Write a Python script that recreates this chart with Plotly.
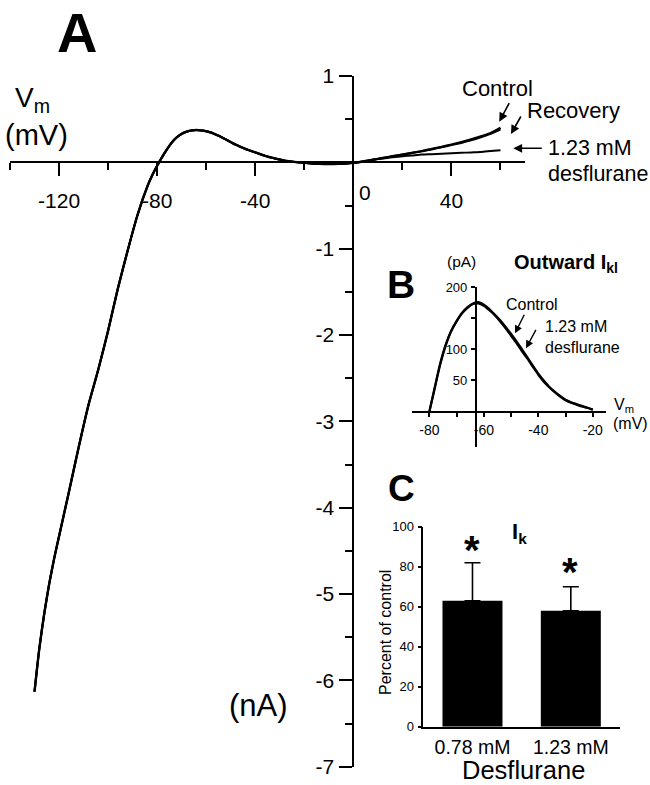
import plotly.graph_objects as go

W, H = 650, 785

# ---------------- Panel A : I-V relation (nA vs mV) ----------------
v_shared = [-130, -128, -126, -124, -122, -120, -116, -112, -108, -104, -100, -96, -92, -88,
            -84, -82, -80, -78, -76, -74, -72, -70, -68, -66, -64, -62, -60, -58, -56, -54,
            -52, -50, -48, -46, -44, -42, -40, -36, -32, -28, -24, -20, -16, -12, -8, -4, 0, 4]
i_shared = [-6.13, -5.62, -5.22, -4.88, -4.59, -4.33, -3.82, -3.30, -2.81, -2.40, -1.95, -1.46,
            -1.02, -0.61, -0.28, -0.15, -0.04, 0.06, 0.15, 0.23, 0.29, 0.33, 0.355, 0.37, 0.375,
            0.37, 0.36, 0.345, 0.32, 0.295, 0.265, 0.235, 0.205, 0.18, 0.155, 0.135, 0.115,
            0.075, 0.045, 0.02, 0.005, -0.005, -0.015, -0.02, -0.02, -0.015, -0.005, 0.01]
v_tail = [8, 12, 16, 20, 24, 28, 32, 36, 40, 44, 48, 52, 56, 60]
i_control_tail = [0.03, 0.05, 0.07, 0.09, 0.11, 0.13, 0.155, 0.18, 0.205, 0.235, 0.265, 0.30, 0.34, 0.40]
i_recovery_tail = [0.03, 0.05, 0.07, 0.09, 0.11, 0.13, 0.15, 0.175, 0.20, 0.225, 0.255, 0.29, 0.33, 0.38]
i_desflurane_tail = [0.03, 0.045, 0.06, 0.07, 0.08, 0.09, 0.095, 0.10, 0.105, 0.11, 0.115, 0.12, 0.13, 0.14]

a_xticks = [-120, -80, -40, 0, 40]
a_xticktext = ['-120', '-80', '-40', '', '40']
a_xminor = [-140, -100, -60, -20, 20, 60]
a_yticks = [1, -1, -2, -3, -4, -5, -6, -7]
a_yticktext = ['1', '-1', '-2', '-3', '-4', '-5', '-6', '-7']
a_yminor = [0.5, -0.5, -1.5, -2.5, -3.5, -4.5, -5.5, -6.5]

# ---------------- Panel B : outward I_kl (pA vs mV) ----------------
v_b = [-80, -78, -76, -74, -72, -70, -68, -66, -64, -62, -60, -58, -56, -54, -52, -50, -48,
       -46, -44, -42, -40, -38, -36, -34, -32, -30, -28, -26, -24, -22, -20]
ikl_control = [0, 40, 78, 108, 130, 146, 159, 168, 174, 176, 172, 165, 156, 147, 136, 125, 113,
               100, 87, 74, 61, 50, 40, 32, 25, 19, 15, 12, 9, 6, 3]
ikl_desflurane = [0, 38, 76, 106, 129, 145, 158, 167, 173, 174, 170, 163, 155, 145, 134, 122, 110,
                  97, 85, 72, 59, 48, 39, 31, 24, 18, 14, 11, 8, 6, 3]
b_xticks = [-80, -60, -40, -20]
b_xticktext = ['-80', '-60', '-40', '-20']
b_xminor = [-70, -50, -30]
b_yticks = [0, 50, 100, 150, 200]
b_yticktext = ['', '50', '100', '', '200']

# ---------------- Panel C : I_k percent of control ----------------
c_categories = ['0.78 mM', '1.23 mM']
c_percent = [63, 58]
c_sem = [19, 12]
c_yticks = [0, 20, 40, 60, 80, 100]


def fx(p):
    return p / W


def fy(p):
    return 1 - p / H


# pixel layout of the three plotting areas
A_dom_x = [fx(10), fx(525)]
A_dom_y = [fy(766.7), fy(76)]
A_rx = [-140, 70]
A_ry = [-7, 1]
B_dom_x = [fx(411.7), fx(606.4)]
B_dom_y = [fy(446.9), fy(287.3)]
B_rx = [-86.5, -15]
B_ry = [-57, 200]
B_ycross = -63
C_dom_x = [fx(423.3), fx(620)]
C_dom_y = [fy(726.7), fy(526.7)]


def cross(dom, rng, val):
    return dom[0] + (val - rng[0]) / (rng[1] - rng[0]) * (dom[1] - dom[0])


FONT = 'Liberation Sans, Arial, sans-serif'
BLACK = '#000000'

fig = go.Figure()

# Panel A traces
fig.add_trace(go.Scatter(x=v_shared + v_tail, y=i_shared + i_desflurane_tail, mode='lines',
                         line=dict(color=BLACK, width=2, shape='spline', smoothing=0.6),
                         xaxis='x', yaxis='y', name='1.23 mM desflurane'))
fig.add_trace(go.Scatter(x=v_shared + v_tail, y=i_shared + i_recovery_tail, mode='lines',
                         line=dict(color=BLACK, width=2, shape='spline', smoothing=0.6),
                         xaxis='x', yaxis='y', name='Recovery'))
fig.add_trace(go.Scatter(x=v_shared + v_tail, y=i_shared + i_control_tail, mode='lines',
                         line=dict(color=BLACK, width=2.4, shape='spline', smoothing=0.6),
                         xaxis='x', yaxis='y', name='Control'))

# Panel B traces
fig.add_trace(go.Scatter(x=v_b, y=ikl_control, mode='lines',
                         line=dict(color=BLACK, width=2.2, shape='spline', smoothing=0.6),
                         xaxis='x2', yaxis='y2', name='Control'))
fig.add_trace(go.Scatter(x=v_b, y=ikl_desflurane, mode='lines',
                         line=dict(color=BLACK, width=2.2, shape='spline', smoothing=0.6),
                         xaxis='x2', yaxis='y2', name='1.23 mM desflurane'))

# Panel C bars
fig.add_trace(go.Bar(x=c_categories, y=c_percent, marker=dict(color=BLACK, line=dict(width=0)),
                     width=0.61, xaxis='x3', yaxis='y3',
                     error_y=dict(type='data', symmetric=False, array=c_sem, arrayminus=[0, 0],
                                  color=BLACK, thickness=1.6, width=8)))

axis_common = dict(showgrid=False, zeroline=False, showline=True, linecolor=BLACK,
                   tickcolor=BLACK, ticks='outside', fixedrange=True, automargin=False)

fig.update_layout(
    template='none',
    width=W, height=H, margin=dict(l=0, r=0, t=0, b=0, pad=0, autoexpand=False),
    paper_bgcolor='white', plot_bgcolor='rgba(0,0,0,0)', showlegend=False,
    font=dict(family=FONT, color=BLACK),
    xaxis=dict(axis_common, domain=A_dom_x, range=A_rx, anchor='free',
               position=cross(A_dom_y, A_ry, 0), linewidth=2, tickwidth=2, ticklen=13,
               tickmode='array', tickvals=a_xticks, ticktext=a_xticktext,
               tickfont=dict(size=21), ticklabelstandoff=6,
               minor=dict(tickmode='array', tickvals=a_xminor, ticklen=7, tickwidth=2,
                          ticks='outside', tickcolor=BLACK, showgrid=False)),
    yaxis=dict(axis_common, domain=A_dom_y, range=A_ry, anchor='free',
               position=cross(A_dom_x, A_rx, 0), linewidth=2, tickwidth=2, ticklen=13,
               tickmode='array', tickvals=a_yticks, ticktext=a_yticktext,
               tickfont=dict(size=21), ticklabelstandoff=1,
               minor=dict(tickmode='array', tickvals=a_yminor, ticklen=7, tickwidth=2,
                          ticks='outside', tickcolor=BLACK, showgrid=False)),
    xaxis2=dict(axis_common, domain=B_dom_x, range=B_rx, anchor='free',
                position=cross(B_dom_y, B_ry, 0), linewidth=1.5, tickwidth=1.5, ticklen=5,
                tickmode='array', tickvals=b_xticks, ticktext=b_xticktext,
                tickfont=dict(size=14), ticklabelstandoff=1,
                minor=dict(tickmode='array', tickvals=b_xminor, ticklen=5, tickwidth=1.5,
                           ticks='outside', tickcolor=BLACK, showgrid=False)),
    yaxis2=dict(axis_common, domain=B_dom_y, range=B_ry, anchor='free',
                position=cross(B_dom_x, B_rx, B_ycross), linewidth=1.5, tickwidth=1.5, ticklen=4,
                tickmode='array', tickvals=b_yticks, ticktext=b_yticktext,
                tickfont=dict(size=13), ticklabelstandoff=1),
    xaxis3=dict(axis_common, domain=C_dom_x, range=[-0.5, 1.5], anchor='y3', type='category',
                linewidth=1.5, ticks='', ticklen=0, tickfont=dict(size=19.5), ticklabelstandoff=2),
    yaxis3=dict(axis_common, domain=C_dom_y, range=[0, 100], anchor='x3', linewidth=1.5,
                tickwidth=1.5, ticklen=4, tickmode='array', tickvals=c_yticks,
                tickfont=dict(size=13), ticklabelstandoff=1),
)

annotations = []


def text(t, x, y, size, xanchor='center', yanchor='middle', angle=0, borderpad=1):
    annotations.append(dict(text=t, x=fx(x), y=fy(y), xref='paper', yref='paper',
                            showarrow=False, xanchor=xanchor, yanchor=yanchor,
                            textangle=angle, borderpad=borderpad,
                            font=dict(size=size, family=FONT, color=BLACK)))


def arrow(tip_x, tip_y, dx, dy, width=1.6):
    annotations.append(dict(text='', x=fx(tip_x), y=fy(tip_y), xref='paper', yref='paper',
                            showarrow=True, ax=dx, ay=dy, axref='pixel', ayref='pixel',
                            arrowhead=2, arrowsize=1.1, arrowwidth=width, arrowcolor=BLACK,
                            standoff=0, startstandoff=0))


# Panel A texts
text('<b>A</b>', 76.7, 33, 56)
text('V<sub>m</sub>', 13, 100, 28, xanchor='left')
text('(mV)', 36, 135, 29)
text('(nA)', 258, 705, 31)
text('0', 365, 193, 21)
text('Control', 497.5, 89, 22)
text('Recovery', 573.3, 111, 22)
text('1.23 mM', 545.5, 148.3, 21.5, xanchor='left')
text('desflurane', 545.5, 174, 21.5, xanchor='left')
arrow(499.3, 121.7, 10.7, -20)
arrow(511, 134, 10.7, -19)
arrow(513.3, 148.3, 30, 0)

# Panel B texts
text('<b>B</b>', 401, 285, 39)
text('(pA)', 461.7, 262, 15.5)
text('<b>Outward I<sub>kl</sub></b>', 511.7, 264, 20, xanchor='left')
text('Control', 532, 304, 16)
text('1.23 mM', 543, 326.5, 16, xanchor='left')
text('desflurane', 543, 347.5, 16, xanchor='left')
text('V<sub>m</sub>', 624, 405, 16)
text('(mV)', 630, 423.5, 16)
arrow(515, 333.3, 10, -20, 1.4)
arrow(526, 348.3, 10.7, -20, 1.4)

# Panel C texts
text('<b>C</b>', 401, 488, 37)
text('<b>I<sub>k</sub></b>', 519, 533, 22)
text('<b>*</b>', 471.7, 550, 40)
text('<b>*</b>', 570, 572, 40)
text('Percent of control', 385, 633, 16, angle=-90)
text('Desflurane', 523.3, 785, 25.5, yanchor='bottom', borderpad=0)

fig.update_layout(annotations=annotations)

fig.write_html('out.html')
